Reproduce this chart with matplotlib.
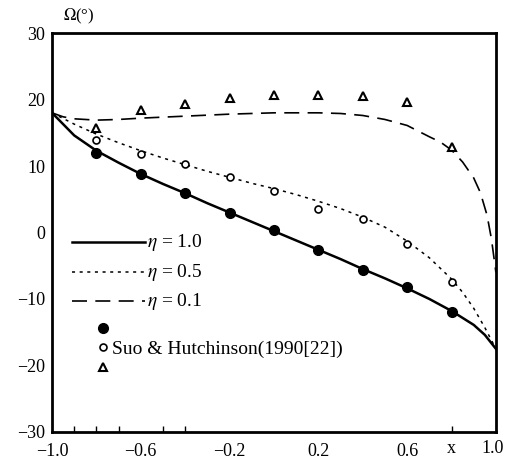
import matplotlib
matplotlib.use("Agg")
import matplotlib.pyplot as plt
import numpy as np

plt.rcParams['font.family'] = ['Liberation Serif', 'DejaVu Serif']
plt.rcParams['mathtext.fontset'] = 'stix'

# eta = 1.0 curve
x_eta10 = [-1.0, -0.9, -0.8, -0.7, -0.6, -0.5, -0.4, -0.3, -0.2, -0.1, 0.0, 0.1, 0.2, 0.3, 0.4, 0.5, 0.6, 0.7, 0.8, 0.9, 0.95, 1.0]
y_eta10 = [18.0, 14.6, 12.3, 10.5, 8.8, 7.3, 5.9, 4.4, 3.0, 1.6, 0.2, -1.2, -2.6, -4.0, -5.5, -6.9, -8.4, -10.0, -11.8, -13.9, -15.4, -17.5]

# eta = 0.5 curve
x_eta05 = [-1.0, -0.9, -0.8, -0.7, -0.6, -0.5, -0.4, -0.3, -0.2, -0.1, 0.0, 0.1, 0.2, 0.3, 0.4, 0.5, 0.6, 0.7, 0.8, 0.85, 0.9, 0.95, 1.0]
y_eta05 = [18.0, 16.3, 14.8, 13.5, 12.3, 11.2, 10.2, 9.2, 8.3, 7.4, 6.6, 5.7, 4.7, 3.6, 2.3, 0.8, -1.3, -3.8, -7.0, -9.0, -11.4, -14.3, -17.5]

# eta = 0.1 curve
x_eta01 = [-1.0, -0.95, -0.9, -0.8, -0.7, -0.6, -0.4, -0.2, 0.0, 0.2, 0.3, 0.4, 0.5, 0.6, 0.7, 0.75, 0.8, 0.85, 0.9, 0.93, 0.96, 0.98, 1.0]
y_eta01 = [18.0, 17.4, 17.1, 16.9, 17.0, 17.2, 17.5, 17.8, 18.0, 18.0, 17.9, 17.6, 17.0, 16.1, 14.4, 13.6, 12.4, 10.6, 8.2, 6.0, 2.6, -1.0, -6.0]

# Suo & Hutchinson data
x_pts = [-0.8, -0.6, -0.4, -0.2, 0.0, 0.2, 0.4, 0.6, 0.8]
y_filled = [12.0, 8.8, 5.9, 3.0, 0.3, -2.6, -5.6, -8.2, -12.0]
y_open = [13.9, 11.8, 10.3, 8.3, 6.2, 3.6, 2.0, -1.7, -7.4]
y_tri = [15.7, 18.4, 19.4, 20.3, 20.7, 20.7, 20.5, 19.7, 12.9]

xtick_vals = [-1.0, -0.6, -0.2, 0.2, 0.6, 1.0]
xtick_labels = ['\u22121.0', '\u22120.6', '\u22120.2', '0.2', '0.6', '1.0']
ytick_vals = [-30, -20, -10, 0, 10, 20, 30]
ytick_labels = ['\u221230', '\u221220', '\u221210', '0', '10', '20', '30']
minor_x = [-0.9, -0.8, -0.7, -0.6, -0.5, -0.4, -0.2, 0.8]

fig = plt.figure(figsize=(5.05, 4.59), dpi=100)
ax = fig.add_axes([0.103, 0.059, 0.879, 0.869])

ax.plot(x_eta10, y_eta10, color='black', lw=1.8, ls='-')
ax.plot(x_eta05, y_eta05, color='black', lw=1.1, ls=(0, (2, 3)))
ax.plot(x_eta01, y_eta01, color='black', lw=1.2, ls=(0, (9, 5)))

ax.plot(x_pts, y_filled, 'o', color='black', ms=7)
ax.plot(x_pts, y_open, 'o', mfc='white', mec='black', mew=1.2, ms=5)
ax.plot(x_pts, y_tri, '^', mfc='white', mec='black', mew=1.5, ms=6)

ax.set_xlim(-1.0, 1.0)
ax.set_ylim(-30, 30)
ax.set_xticks(xtick_vals)
ax.set_xticklabels(xtick_labels[:-1] + [''], fontsize=13)
ax.set_yticks(ytick_vals)
ax.set_yticklabels(ytick_labels, fontsize=13)
ax.tick_params(axis='x', length=0, pad=8)
ax.tick_params(axis='y', length=0, pad=5)
ax.set_xticks(minor_x, minor=True)
ax.tick_params(axis='x', which='minor', direction='in', length=4, width=1)
for s in ax.spines.values():
    s.set_linewidth(2.0)

# last x tick label placed so it stays inside the figure
fig.text(0.997, 0.059 - 8 / 459, xtick_labels[-1], fontsize=13, ha='right', va='top')

# legend drawn manually in axes coordinates
lx0, lx1 = 0.045, 0.21
rows = [(0.475, '-', 1.8), (0.40, (0, (2, 3)), 1.1), (0.327, (0, (9, 5)), 1.2)]
labels = [r'$\eta$ = 1.0', r'$\eta$ = 0.5', r'$\eta$ = 0.1']
for (yy, ls, lw), lab in zip(rows, labels):
    ax.plot([lx0, lx1], [yy, yy], transform=ax.transAxes, color='black', ls=ls, lw=lw)
    ax.text(lx1 + 0.005, yy, lab, transform=ax.transAxes, fontsize=14, va='center', ha='left')
ax.plot([0.115], [0.26], 'o', transform=ax.transAxes, color='black', ms=7)
ax.plot([0.115], [0.213], 'o', transform=ax.transAxes, mfc='white', mec='black', mew=1.2, ms=5)
ax.plot([0.115], [0.163], '^', transform=ax.transAxes, mfc='white', mec='black', mew=1.5, ms=6)
ax.text(0.135, 0.208, 'Suo & Hutchinson(1990[22])', transform=ax.transAxes, fontsize=14, va='center', ha='left')

fig.text(0.125, 0.965, r'$\Omega$(°)', fontsize=12, va='center', ha='left')
ax.text(0.8, -8 / 399, 'x', transform=ax.get_xaxis_transform(), fontsize=13, ha='center', va='top')

fig.savefig('out.png', dpi=100)
